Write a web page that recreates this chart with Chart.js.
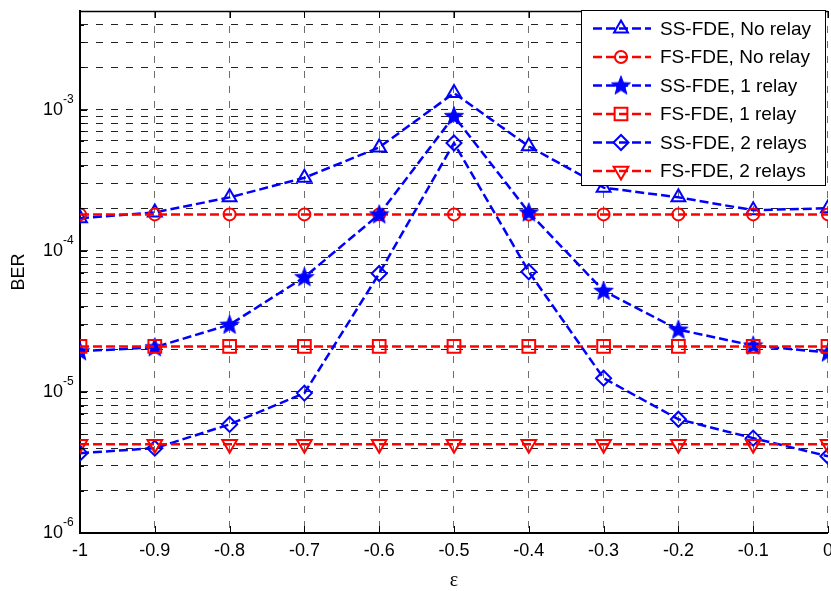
<!DOCTYPE html>
<html>
<head>
<meta charset="utf-8">
<script src="https://cdn.jsdelivr.net/npm/chart.js"></script>
<style>
  html, body { margin: 0; padding: 0; background: #fff; overflow: hidden; }
  #wrap { width: 840px; height: 591px; }
</style>
</head>
<body>
<div id="wrap"><canvas id="c" width="840" height="591"></canvas></div>
<script>
// values
const epsValues = [-1, -0.9, -0.8, -0.7, -0.6, -0.5, -0.4, -0.3, -0.2, -0.1, 0];
const ssNoRelay = [1.70e-4, 1.87e-4, 2.39e-4, 3.29e-4, 5.4e-4, 1.31e-3, 5.5e-4, 2.8e-4, 2.39e-4, 1.94e-4, 2.0e-4];
const fsNoRelay = [1.81e-4, 1.81e-4, 1.81e-4, 1.81e-4, 1.81e-4, 1.81e-4, 1.81e-4, 1.81e-4, 1.81e-4, 1.81e-4, 1.81e-4];
const ss1Relay = [1.94e-5, 2.07e-5, 2.99e-5, 6.5e-5, 1.81e-4, 9.0e-4, 1.87e-4, 5.2e-5, 2.76e-5, 2.13e-5, 1.9e-5];
const fs1Relay = [2.1e-5, 2.1e-5, 2.1e-5, 2.1e-5, 2.1e-5, 2.1e-5, 2.1e-5, 2.1e-5, 2.1e-5, 2.1e-5, 2.1e-5];
const ss2Relays = [3.68e-6, 3.99e-6, 5.88e-6, 9.8e-6, 6.9e-5, 5.8e-4, 7.1e-5, 1.25e-5, 6.4e-6, 4.7e-6, 3.5e-6];
const fs2Relays = [4.26e-6, 4.26e-6, 4.26e-6, 4.26e-6, 4.26e-6, 4.26e-6, 4.26e-6, 4.26e-6, 4.26e-6, 4.26e-6, 4.26e-6];

const seriesNames = ["SS-FDE, No relay", "FS-FDE, No relay", "SS-FDE, 1 relay",
                     "FS-FDE, 1 relay", "SS-FDE, 2 relays", "FS-FDE, 2 relays"];

// log axis ticks
const yDecades = [1e-6, 1e-5, 1e-4, 1e-3];
const yExponents = ["-6", "-5", "-4", "-3"];
const yMantissas = [1, 2, 3, 4, 5, 6, 7, 8, 9];
const yMin = 1e-6;
const yMax = 5e-3;

const yTickValues = [];
yDecades.forEach((d) => {
  yMantissas.forEach((m) => {
    const v = m * d;
    if (v <= yMax * 1.0001) yTickValues.push(v);
  });
});

const BLUE = "#0000ff";
const RED = "#ff0000";
const FONT = '"Liberation Sans", Arial, sans-serif';

// filled pentagram like the matlab marker
function makeStar(color) {
  const c = document.createElement("canvas");
  c.width = 24;
  c.height = 24;
  const g = c.getContext("2d");
  g.beginPath();
  for (let i = 0; i < 10; i++) {
    const r = i % 2 === 0 ? 10 : 4.2;
    const a = -Math.PI / 2 + (i * Math.PI) / 5;
    const px = 12 + r * Math.cos(a);
    const py = 12.5 + r * Math.sin(a);
    if (i === 0) g.moveTo(px, py);
    else g.lineTo(px, py);
  }
  g.closePath();
  g.fillStyle = color;
  g.fill();
  g.strokeStyle = color;
  g.lineWidth = 1;
  g.stroke();
  return c;
}
const starImg = makeStar(BLUE);

const styles = [
  { color: BLUE, pointStyle: "triangle", radius: 8, rotation: 0 },
  { color: RED, pointStyle: "circle", radius: 6, rotation: 0 },
  { color: BLUE, pointStyle: starImg, radius: 9, rotation: 0 },
  { color: RED, pointStyle: "rect", radius: 9, rotation: 0 },
  { color: BLUE, pointStyle: "rectRot", radius: 7.5, rotation: 0 },
  { color: RED, pointStyle: "triangle", radius: 8.5, rotation: 180 },
];

const allSeries = [ssNoRelay, fsNoRelay, ss1Relay, fs1Relay, ss2Relays, fs2Relays];

const datasets = allSeries.map((vals, i) => ({
  label: seriesNames[i],
  data: epsValues.map((x, k) => ({ x: x, y: vals[k] })),
  borderColor: styles[i].color,
  borderWidth: 2.5,
  borderDash: [9, 4],
  pointStyle: styles[i].pointStyle,
  pointRadius: styles[i].radius,
  pointRotation: styles[i].rotation,
  pointBorderColor: styles[i].color,
  pointBackgroundColor: "rgba(0,0,0,0)",
  pointBorderWidth: 2,
  fill: false,
  tension: 0,
  order: 6 - i,
}));

function drawMarker(ctx, st, x, y) {
  ctx.save();
  ctx.setLineDash([]);
  ctx.strokeStyle = st.color;
  ctx.fillStyle = "rgba(0,0,0,0)";
  ctx.lineWidth = 2;
  Chart.helpers.drawPoint(ctx, {
    pointStyle: st.pointStyle,
    rotation: st.rotation,
    radius: st.radius,
    borderWidth: 2,
  }, x, y);
  ctx.restore();
}

const framePlugin = {
  id: "frame",
  afterDraw(chart) {
    const ctx = chart.ctx;
    const area = chart.chartArea;
    const xs = chart.scales.x;
    const ys = chart.scales.y;

    ctx.save();
    // top border
    ctx.strokeStyle = "#000";
    ctx.lineWidth = 1.5;
    ctx.beginPath();
    ctx.moveTo(area.left, area.top + 0.5);
    ctx.lineTo(area.right, area.top + 0.5);
    ctx.stroke();

    // inner tick marks
    ctx.lineWidth = 1;
    ctx.beginPath();
    epsValues.forEach((v) => {
      const px = Math.round(xs.getPixelForValue(v)) + 0.5;
      ctx.moveTo(px, area.bottom);
      ctx.lineTo(px, area.bottom - 7);
      ctx.moveTo(px, area.top);
      ctx.lineTo(px, area.top + 7);
    });
    yTickValues.forEach((v, k) => {
      const py = Math.round(ys.getPixelForValue(v)) + 0.5;
      const len = k % 9 === 0 ? 7 : 4;
      ctx.moveTo(area.left, py);
      ctx.lineTo(area.left + len, py);
    });
    ctx.stroke();

    // y tick labels 10^n
    ctx.fillStyle = "#000";
    yDecades.forEach((d, k) => {
      const py = ys.getPixelForValue(d);
      ctx.font = "18px " + FONT;
      ctx.textAlign = "right";
      ctx.textBaseline = "middle";
      ctx.fillText("10", 63, py);
      ctx.font = "12px " + FONT;
      ctx.textAlign = "left";
      ctx.textBaseline = "alphabetic";
      ctx.fillText(yExponents[k], 63, py - 7);
    });

    // legend
    const lx = 581, ly = 10, lw = 244, lh = 175;
    ctx.fillStyle = "#fff";
    ctx.fillRect(lx, ly, lw, lh);
    ctx.strokeStyle = "#000";
    ctx.lineWidth = 1;
    ctx.strokeRect(lx + 0.5, ly + 0.5, lw, lh);
    seriesNames.forEach((name, i) => {
      const st = styles[i];
      const ry = ly + 18.5 + i * 28.5;
      ctx.save();
      ctx.strokeStyle = st.color;
      ctx.lineWidth = 2.5;
      ctx.setLineDash([9, 4]);
      ctx.beginPath();
      ctx.moveTo(593, ry);
      ctx.lineTo(651, ry);
      ctx.stroke();
      ctx.restore();
      drawMarker(ctx, st, 621, ry);
      ctx.fillStyle = "#000";
      ctx.font = "19px " + FONT;
      ctx.textAlign = "left";
      ctx.textBaseline = "middle";
      ctx.fillText(name, 660, ry + 1);
    });
    ctx.restore();
  },
};

new Chart(document.getElementById("c"), {
  type: "line",
  data: { datasets: datasets },
  options: {
    responsive: false,
    animation: false,
    layout: { padding: { left: 0, right: 9, top: 5, bottom: 0 } },
    plugins: {
      legend: { display: false },
      tooltip: { enabled: false },
    },
    scales: {
      x: {
        type: "linear",
        min: -1,
        max: 0,
        afterFit: (scale) => { scale.height = 58; },
        ticks: {
          stepSize: 0.1,
          padding: 7,
          color: "#000",
          font: { family: FONT, size: 18 },
          callback: (v) => String(Math.round(v * 10) / 10),
        },
        grid: {
          color: "#6e6e6e",
          lineWidth: 1,
          drawTicks: false,
        },
        border: { display: true, color: "#000", width: 2, dash: [7, 8] },
        title: {
          display: true,
          text: "ε",
          color: "#000",
          font: { family: '"Liberation Serif", "Times New Roman", serif', size: 20, lineHeight: 1 },
          padding: { top: 0, bottom: 0 },
        },
      },
      y: {
        type: "logarithmic",
        min: yMin,
        max: yMax,
        afterFit: (scale) => { scale.width = 80; },
        afterBuildTicks: (scale) => {
          scale.ticks = yTickValues.map((v) => ({ value: v }));
        },
        ticks: { display: false },
        grid: {
          color: "#222",
          lineWidth: 1,
          drawTicks: false,
        },
        border: { display: true, color: "#000", width: 2, dash: [7, 8] },
        title: {
          display: true,
          text: "BER",
          color: "#000",
          font: { family: FONT, size: 18 },
          padding: { top: 8, bottom: 0 },
        },
      },
    },
  },
  plugins: [framePlugin],
});
</script>
</body>
</html>
